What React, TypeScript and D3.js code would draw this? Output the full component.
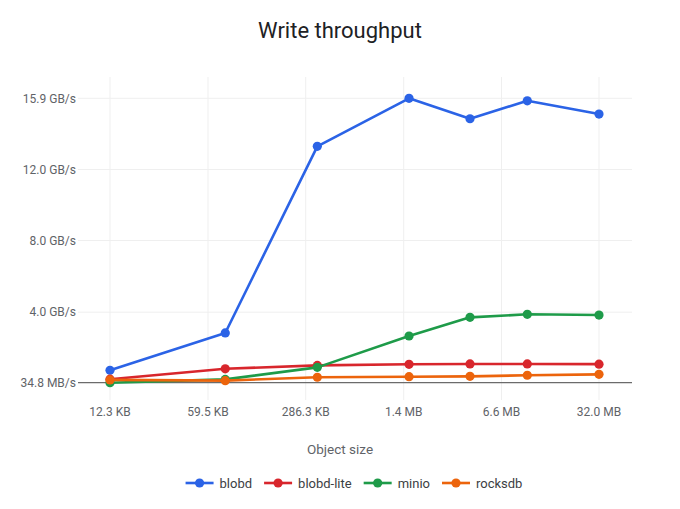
import { useEffect, useRef } from 'react'
import * as d3 from 'd3'

// object sizes in KB (log axis)
const sizes = [12.3, 78.5, 345, 1508, 4020, 10100, 32000]
const xTickValues = [12.3, 59.5, 286.3, 1384, 6673, 32000]
const xTickLabels = ['12.3 KB', '59.5 KB', '286.3 KB', '1.4 MB', '6.6 MB', '32.0 MB']

// throughput in GB/s
const yTickValues = [0.0348, 3.97, 7.97, 11.93, 15.9]
const yTickLabels = ['34.8 MB/s', '4.0 GB/s', '8.0 GB/s', '12.0 GB/s', '15.9 GB/s']

const blobd = [0.73, 2.81, 13.22, 15.9, 14.76, 15.76, 15.02]
const blobdLite = [0.23, 0.81, 1.0, 1.06, 1.08, 1.08, 1.07]
const minio = [0.0348, 0.22, 0.89, 2.64, 3.68, 3.85, 3.81]
const rocksdb = [0.19, 0.15, 0.34, 0.37, 0.39, 0.45, 0.5]

const seriesNames = ['blobd', 'blobd-lite', 'minio', 'rocksdb']
const seriesValues = [blobd, blobdLite, minio, rocksdb]
const COLORS = ['#2b63e6', '#d8262c', '#1e9b49', '#ec640c']

const W = 680
const H = 509
const FONT = "Roboto, 'Noto Sans', Arial, sans-serif"
const AXIS_TEXT = '#5f6368'
const GRID = '#efefef'
const BASELINE = '#6b6b6b'

export default function App() {
  const svgRef = useRef<SVGSVGElement>(null)

  useEffect(() => {
    document.body.style.margin = '0'
    const svg = svgRef.current
    if (!svg) return
    const sel = d3.select(svg)
    sel.selectAll('*').remove()

    const x = d3.scaleLog().domain([sizes[0], sizes[sizes.length - 1]]).range([110, 599])
    const y = d3.scaleLinear().domain([yTickValues[0], yTickValues[yTickValues.length - 1]]).range([382.7, 98.3])

    sel.append('rect').attr('width', W).attr('height', H).attr('fill', '#fff')

    // title
    sel.append('text')
      .attr('x', W / 2).attr('y', 38)
      .attr('text-anchor', 'middle')
      .attr('font-family', FONT).attr('font-size', 22)
      .attr('fill', '#202124')
      .text('Write throughput')

    const g = sel.append('g')

    // vertical grid
    g.selectAll('.vgrid').data(xTickValues).join('line')
      .attr('x1', (d) => x(d)).attr('x2', (d) => x(d))
      .attr('y1', 77).attr('y2', 400)
      .attr('stroke', GRID).attr('stroke-width', 1)

    // horizontal grid
    g.selectAll('.hgrid').data(yTickValues.slice(1)).join('line')
      .attr('x1', 78).attr('x2', 632)
      .attr('y1', (d) => y(d)).attr('y2', (d) => y(d))
      .attr('stroke', GRID).attr('stroke-width', 1)

    // y labels
    g.selectAll('.ylab').data(yTickValues).join('text')
      .attr('x', 76).attr('y', (d) => y(d)).attr('dy', '0.35em')
      .attr('text-anchor', 'end')
      .attr('font-family', FONT).attr('font-size', 12)
      .attr('fill', AXIS_TEXT)
      .text((_, i) => yTickLabels[i])

    // x labels
    g.selectAll('.xlab').data(xTickValues).join('text')
      .attr('x', (d) => x(d)).attr('y', 416)
      .attr('text-anchor', 'middle')
      .attr('font-family', FONT).attr('font-size', 12)
      .attr('fill', AXIS_TEXT)
      .text((_, i) => xTickLabels[i])

    // baseline
    g.append('line')
      .attr('x1', 78).attr('x2', 632)
      .attr('y1', y(yTickValues[0])).attr('y2', y(yTickValues[0]))
      .attr('stroke', BASELINE).attr('stroke-width', 1.3)

    // x axis title
    sel.append('text')
      .attr('x', W / 2).attr('y', 454)
      .attr('text-anchor', 'middle')
      .attr('font-family', FONT).attr('font-size', 13.5)
      .attr('fill', AXIS_TEXT)
      .text('Object size')

    const line = d3.line<number>()
      .x((_, i) => x(sizes[i]))
      .y((d) => y(d))

    seriesValues.forEach((vals, si) => {
      const sg = g.append('g')
      sg.append('path')
        .datum(vals)
        .attr('d', line)
        .attr('fill', 'none')
        .attr('stroke', COLORS[si])
        .attr('stroke-width', 2.6)
        .attr('stroke-linejoin', 'round')
      sg.selectAll('circle').data(vals).join('circle')
        .attr('cx', (_, i) => x(sizes[i]))
        .attr('cy', (d) => y(d))
        .attr('r', 4.6)
        .attr('fill', COLORS[si])
    })

    // legend, laid out by measured text widths
    const legend = sel.append('g')
    let cursor = 0
    const items = seriesNames.map((name, i) => {
      const it = legend.append('g')
      it.append('line')
        .attr('x1', 0).attr('x2', 28)
        .attr('y1', 0).attr('y2', 0)
        .attr('stroke', COLORS[i]).attr('stroke-width', 2.6)
      it.append('circle').attr('cx', 14).attr('cy', 0).attr('r', 4.6).attr('fill', COLORS[i])
      const t = it.append('text')
        .attr('x', 34).attr('y', 0).attr('dy', '0.35em')
        .attr('font-family', FONT).attr('font-size', 13)
        .attr('fill', '#3c4043')
        .text(name)
      const tw = (t.node() as SVGTextElement).getComputedTextLength()
      const start = cursor
      cursor += 34 + tw + 12
      return { it, start }
    })
    const total = cursor - 12
    const left = W / 2 - total / 2 + 14
    items.forEach(({ it, start }) => it.attr('transform', `translate(${left + start},483)`))
  }, [])

  return <svg ref={svgRef} width={W} height={H} style={{ display: 'block' }} />
}
